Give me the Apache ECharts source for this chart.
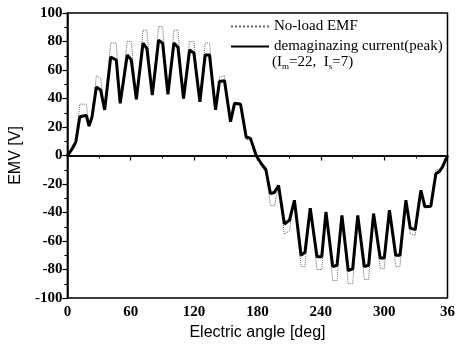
<!DOCTYPE html>
<html>
<head>
<meta charset="utf-8">
<script src="https://cdn.jsdelivr.net/npm/echarts@6/dist/echarts.min.js"></script>
<style>html,body{margin:0;padding:0;background:#fff;}#c{width:458px;height:347px;}</style>
</head>
<body>
<div id="c"></div>
<script>
const angles = [0, 3, 5.5, 8, 11.7, 14.8, 18, 20.5, 23.3, 27.4, 31.5, 35.3, 41, 46.3, 50, 56.7, 60.5, 65.3, 71.6, 75.3,
  80.4, 86.4, 90.2, 95.2, 100.9, 104.7, 110, 115.7, 119.8, 125.5, 130.5, 134.6, 140.3, 144, 148.8, 154.5, 158.3, 164, 169.3, 173.4,
  178.8, 183.5, 188, 192.3, 196, 200, 205.5, 210.3, 215, 221.3, 225, 230, 236.4, 240.9, 244.9, 251.3, 255.4, 260, 266, 270.2,
  275, 281.2, 285.3, 290, 296.3, 300.1, 305, 311, 315, 320.6, 324.7, 329.4, 334.8, 338.6, 344.2, 349, 352, 355.3, 360];
const demag = [0, 3, 6, 9.6, 27, 27.7, 28, 20.6, 27, 48, 46, 32, 69, 67, 36.6, 70.6, 67, 39.4, 78.8, 75,
  42.4, 81, 78.8, 43, 79, 76, 40, 74, 72, 37.7, 70.6, 70.6, 32, 52, 52.5, 23.7, 36.6, 36, 13, 12,
  0, -5.6, -10, -26.7, -26, -21, -48, -45.5, -31.4, -70, -68, -37, -71, -71, -39.6, -78, -77, -42, -80.7, -79.5,
  -42, -78, -77, -40.8, -72, -72, -38.4, -70, -70, -31.4, -51, -52, -24.4, -36, -35.6, -12.7, -11.5, -8, 0];
const noload = [0, 4, 8, 10, 36, 36, 36, 20.6, 27, 56, 54, 32, 79, 79, 36.6, 80, 80, 39.4, 88, 88,
  42.4, 90.5, 90.5, 43, 88, 88, 40, 80, 80, 37.7, 79, 79, 32, 55, 56, 23.7, 37, 37, 11, 11,
  0, -6, -12, -35, -35.5, -21, -55, -53, -31.4, -78, -78, -37, -80, -80, -39.6, -87.7, -87.7, -42, -90, -90,
  -42, -87, -87, -40.8, -79.5, -79.5, -38.4, -78, -78, -31.4, -55, -56, -24.4, -36, -36, -10, -10, -8, 0];
const xTicks = [0, 60, 120, 180, 240, 300, 360];
const xTickLabels = ['0', '60', '120', '180', '240', '300', '36'];
const seriesNames = ['No-load EMF', 'demaginazing current(peak)'];

const chart = echarts.init(document.getElementById('c'), null, {renderer: 'canvas'});
const pair = (vals) => angles.map((a, i) => [a, vals[i]]);
const tickFont = {fontFamily: 'Liberation Serif', fontSize: 15, fontWeight: 'bold', color: '#000'};
chart.setOption({
  animation: false,
  backgroundColor: '#fff',
  grid: {left: 66, right: 10, top: 13, bottom: 49, show: true, borderColor: '#000', borderWidth: 1.5},
  legend: {
    orient: 'vertical', left: 230, top: 19, padding: 0, itemWidth: 38, itemHeight: 14, itemGap: 5,
    itemStyle: {opacity: 0},
    textStyle: {fontFamily: 'Liberation Serif', fontSize: 15, color: '#000'},
    data: seriesNames
  },
  graphic: [{
    type: 'text', left: 272, top: 55,
    style: {
      text: '(I{s|m}=22,  I{s|s}=7)',
      fontFamily: 'Liberation Serif', fontSize: 15, fill: '#000',
      rich: {s: {fontFamily: 'Liberation Serif', fontSize: 9, verticalAlign: 'bottom', padding: [8, 0, 0, 0]}}
    }
  }],
  xAxis: {
    type: 'value', min: 0, max: 360, interval: 60,
    name: 'Electric angle [deg]', nameLocation: 'middle', nameGap: 26,
    nameTextStyle: {fontFamily: 'Liberation Sans', fontSize: 16, color: '#000'},
    axisLine: {show: true, lineStyle: {color: '#000', width: 1.5}},
    axisTick: {show: true, inside: false, length: 5, lineStyle: {color: '#000', width: 1.2}},
    minorTick: {show: true, splitNumber: 2, length: 3, lineStyle: {color: '#000'}},
    splitLine: {show: false},
    axisLabel: Object.assign({margin: 7, formatter: (v) => { const i = xTicks.indexOf(v); return i >= 0 ? xTickLabels[i] : ''; }}, tickFont)
  },
  yAxis: {
    type: 'value', min: -100, max: 100, interval: 20,
    name: 'EMV [V]', nameLocation: 'middle', nameGap: 39, nameRotate: 90,
    nameTextStyle: {fontFamily: 'Liberation Sans', fontSize: 16, color: '#000'},
    axisLine: {show: true, lineStyle: {color: '#000', width: 1.5}},
    axisTick: {show: true, inside: false, length: 5, lineStyle: {color: '#000', width: 1.2}},
    minorTick: {show: true, splitNumber: 2, length: 3, lineStyle: {color: '#000'}},
    splitLine: {show: false},
    axisLabel: Object.assign({margin: 5}, tickFont)
  },
  series: [
    {
      name: seriesNames[0], type: 'line', data: pair(noload), symbol: 'none', z: 3,
      lineStyle: {color: '#666', width: 1, type: 'dotted'}, itemStyle: {color: '#666'}
    },
    {
      name: seriesNames[1], type: 'line', data: pair(demag), symbol: 'none', z: 4,
      lineStyle: {color: '#000', width: 3}, itemStyle: {color: '#000'},
      markLine: {silent: true, symbol: 'none', label: {show: false}, lineStyle: {color: '#000', width: 1.5, type: 'solid'}, data: [{yAxis: 0}]}
    }
  ]
});
</script>
</body>
</html>
